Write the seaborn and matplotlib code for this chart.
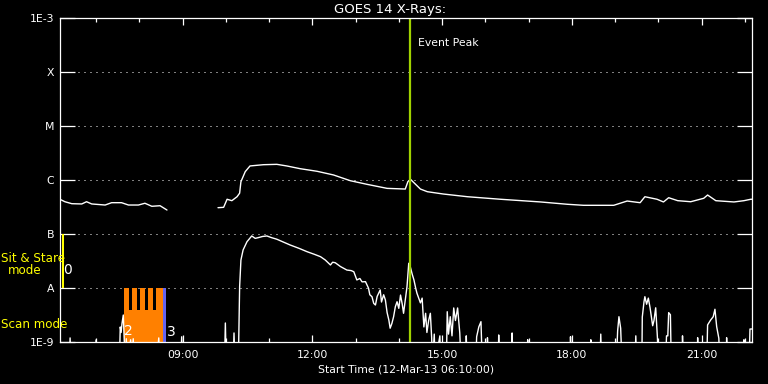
import numpy as np
import pandas as pd
import matplotlib
matplotlib.use("Agg")
import matplotlib.pyplot as plt
import seaborn as sns

# ---------------- data ----------------
LOW = 4e-10  # below plotted range (clipped at 1E-9)

# long channel (1-8 A), two segments (data gap between)
long_t1 = [6.17, 6.19, 6.28, 6.44, 6.67, 6.78, 6.90, 7.21, 7.36, 7.59, 7.75, 7.98, 8.13, 8.29, 8.48, 8.64]
long_f1 = [4.3e-7, 4.3e-7, 3.96e-7, 3.64e-7, 3.6e-7, 3.96e-7, 3.6e-7, 3.44e-7, 3.8e-7, 3.8e-7, 3.44e-7,
           3.44e-7, 3.71e-7, 3.26e-7, 3.34e-7, 2.78e-7]
long_t2 = [9.82, 9.95, 10.03, 10.14, 10.26, 10.32, 10.35, 10.45, 10.56, 10.87, 11.18, 11.41, 11.72, 12.11,
           12.49, 12.88, 13.27, 13.73, 14.15, 14.21, 14.27, 14.50, 14.66, 15.03, 15.59, 16.35, 17.28, 17.90,
           18.27, 18.97, 19.28, 19.58, 19.69, 19.97, 20.12, 20.24, 20.45, 20.75, 21.05, 21.14, 21.33, 21.75,
           21.98, 22.14, 22.17]
long_f2 = [3.07e-7, 3.12e-7, 4.4e-7, 4.14e-7, 4.9e-7, 5.7e-7, 9.3e-7, 1.43e-6, 1.82e-6, 1.92e-6, 1.95e-6,
           1.82e-6, 1.62e-6, 1.45e-6, 1.24e-6, 9.7e-7, 8.3e-7, 7.0e-7, 6.8e-7, 9.3e-7, 1.03e-6, 6.8e-7,
           6.07e-7, 5.5e-7, 4.9e-7, 4.4e-7, 3.92e-7, 3.55e-7, 3.4e-7, 3.4e-7, 4.08e-7, 3.8e-7, 4.9e-7,
           4.4e-7, 3.92e-7, 4.7e-7, 4.14e-7, 3.96e-7, 4.58e-7, 5.27e-7, 4.14e-7, 3.92e-7, 4.14e-7, 4.4e-7,
           4.4e-7]

# short channel (0.5-4 A)
short_t = [6.17, 6.38, 6.40, 6.42, 6.98, 7.00, 7.02, 7.54, 7.56, 7.58, 7.60, 7.63, 7.65, 7.67,
           7.70, 7.72, 7.80, 7.82, 7.86, 7.88, 8.40, 8.45, 8.47, 8.96, 8.98, 9.00, 9.97, 9.99, 10.01,
           10.17, 10.19, 10.21,
           10.29, 10.32, 10.35, 10.40, 10.49, 10.60, 10.68, 10.76, 10.85, 10.95, 11.05, 11.18, 11.35,
           11.49, 11.70, 11.88, 12.05, 12.19, 12.30, 12.42, 12.47, 12.53, 12.65, 12.80, 12.90, 12.96,
           13.03, 13.10, 13.15, 13.23, 13.30, 13.33, 13.38, 13.42, 13.46, 13.50, 13.57, 13.60, 13.65,
           13.69, 13.73, 13.77, 13.80, 13.84, 13.88, 13.92, 13.96, 14.00, 14.04, 14.08, 14.11, 14.15,
           14.19, 14.23, 14.27, 14.31, 14.35, 14.39, 14.42, 14.46, 14.50, 14.54, 14.58, 14.62, 14.65,
           14.69, 14.73, 14.76, 14.78,
           14.82, 14.84, 14.95, 14.97,
           15.10, 15.12, 15.15, 15.19, 15.23, 15.27, 15.31, 15.36, 15.41, 15.44,
           15.55, 15.56, 15.58, 15.78, 15.80, 15.85, 15.90, 15.93,
           16.04, 16.05, 16.07, 16.30, 16.31, 16.33, 16.61, 16.62, 16.64, 16.97, 16.98, 17.00,
           17.96, 17.97, 17.99, 18.43, 18.44, 18.46, 18.65, 18.67, 18.69,
           19.03, 19.06, 19.09, 19.13, 19.16, 19.46, 19.48, 19.50,
           19.62, 19.63, 19.67, 19.69, 19.73, 19.77, 19.81, 19.87, 19.90, 19.94, 19.98, 20.00,
           20.17, 20.19, 20.22, 20.24, 20.28, 20.30,
           20.55, 20.56, 20.58, 20.90, 20.91, 20.93,
           21.12, 21.14, 21.21, 21.27, 21.31, 21.35, 21.40, 21.42,
           21.57, 21.58, 21.60, 21.97, 21.98, 22.00, 22.10, 22.12, 22.17]
short_f = [LOW, LOW, 1.19e-9, LOW, LOW, 1.09e-9, LOW, LOW, 1.9e-9, 1.5e-9, 2.2e-9, 3.16e-9, 1.2e-9, LOW,
           1.15e-9, LOW, 1.1e-9, LOW, 1.15e-9, LOW, LOW, 1.19e-9, LOW, LOW, 1.25e-9, LOW, LOW, 2.25e-9, LOW,
           LOW, 1.47e-9, LOW,
           LOW, 1.06e-8, 3.3e-8, 5.06e-8, 7.2e-8, 9.2e-8, 8.3e-8, 8.6e-8, 9.0e-8, 9.2e-8, 8.6e-8, 8.0e-8,
           7.0e-8, 6.25e-8, 5.4e-8, 4.7e-8, 4.2e-8, 3.8e-8, 3.3e-8, 2.67e-8, 3.0e-8, 2.94e-8, 2.5e-8,
           2.15e-8, 2.1e-8, 2.0e-8, 1.41e-8, 1.5e-8, 1.3e-8, 1.31e-8, 9.9e-9, 7.5e-9, 6.9e-9, 5.2e-9,
           4.84e-9, 7.0e-9, 9.2e-9, 5.5e-9, 7.5e-9, 6.0e-9, 3.5e-9, 2.55e-9, 1.8e-9, 2.2e-9, 2.94e-9,
           4.5e-9, 5.57e-9, 4.2e-9, 7.4e-9, 5.0e-9, 3.4e-9, 6.0e-9, 1.06e-8, 2.87e-8, 2.4e-8, 1.8e-8,
           1.41e-8, 1.0e-8, 8.0e-9, 6.5e-9, 5.3e-9, 6.5e-9, 1.9e-9, 3.4e-9, 1.5e-9, 2.5e-9, 3.4e-9,
           1.2e-9, LOW,
           1.4e-9, LOW, 1.3e-9, LOW,
           LOW, 3.64e-9, 1.4e-9, 2.94e-9, 1.3e-9, 4.27e-9, 2.5e-9, 4.27e-9, 1.47e-9, LOW,
           LOW, 1.3e-9, LOW, LOW, 1.25e-9, 1.9e-9, 2.38e-9, LOW,
           LOW, 1.2e-9, LOW, LOW, 1.35e-9, LOW, LOW, 1.47e-9, LOW, LOW, 1.1e-9, LOW,
           LOW, 1.25e-9, LOW, LOW, 1.1e-9, LOW, LOW, 1.4e-9, LOW,
           LOW, 1.6e-9, 2.94e-9, 1.8e-9, LOW, LOW, 1.3e-9, LOW,
           LOW, 2.9e-9, 5.6e-9, 6.9e-9, 5.0e-9, 6.5e-9, 4.3e-9, 2.0e-9, 2.5e-9, 4.3e-9, 1.2e-9, LOW,
           LOW, 1.3e-9, 1.3e-9, 3.5e-9, 3.2e-9, LOW,
           LOW, 1.3e-9, LOW, LOW, 1.2e-9, LOW,
           LOW, 2.07e-9, 2.55e-9, 2.94e-9, 4.04e-9, 1.92e-9, 1.17e-9, LOW,
           LOW, 1.2e-9, LOW, LOW, 1.1e-9, LOW, LOW, 1.74e-9, 1.74e-9]

# instrument mode bars: (start hour, end hour, bottom, top)
scan_base = [(7.648, 8.551, 1e-9, 3.9e-9)]
scan_teeth = [(7.648, 7.764), (7.833, 7.949), (8.019, 8.134), (8.204, 8.319), (8.389, 8.551)]
mode3_bar = [(8.551, 8.620, 1e-9, 1e-8)]
sitstare_bar = [(6.213, 6.259, 1e-8, 1e-7)]

peak_time = 14.268
x_start, x_end = 6 + 10 / 60, 22 + 10 / 60
y_ticks = [1e-9, 1e-8, 1e-7, 1e-6, 1e-5, 1e-4, 1e-3]
y_labels = ["1E-9", "A", "B", "C", "M", "X", "1E-3"]
x_major = [9, 12, 15, 18, 21]
x_labels = ["09:00", "12:00", "15:00", "18:00", "21:00"]
x_minor = list(range(7, 23))

# ---------------- figure ----------------
sns.set_theme(style="dark")
plt.rcParams.update({
    "font.family": ["DejaVu Sans"],
    "figure.facecolor": "black",
    "axes.facecolor": "black",
    "savefig.facecolor": "black",
})

fig = plt.figure(figsize=(7.68, 3.84), dpi=100)
ax = fig.add_axes([60 / 768, 42 / 384, 692 / 768, 324 / 384])
ax.set_facecolor("black")

ax.set_yscale("log")
ax.set_xlim(x_start, x_end)
ax.set_ylim(1e-9, 1e-3)

# dotted grid at each decade
for yv in y_ticks[1:-1]:
    ax.axhline(yv, color="white", lw=0.72, ls=(0, (1, 5)), zorder=1)

# mode bars
for (a, b, lo, hi) in scan_base:
    ax.bar(a, hi - lo, width=b - a, bottom=lo, align="edge", color="#ff8000", lw=0, zorder=2)
for (a, b) in scan_teeth:
    ax.bar(a, 1e-8 - 1e-9, width=b - a, bottom=1e-9, align="edge", color="#ff8000", lw=0, zorder=2)
for (a, b, lo, hi) in mode3_bar:
    ax.bar(a, hi - lo, width=b - a, bottom=lo, align="edge", color="#6464f0", lw=0, zorder=2)
for (a, b, lo, hi) in sitstare_bar:
    ax.bar(a, hi - lo, width=b - a, bottom=lo, align="edge", color="#ffff00", lw=0, zorder=2)

# curves
df_l1 = pd.DataFrame({"t": long_t1, "f": long_f1})
df_l2 = pd.DataFrame({"t": long_t2, "f": long_f2})
df_s = pd.DataFrame({"t": short_t, "f": short_f})
for d in (df_l1, df_l2, df_s):
    sns.lineplot(data=d, x="t", y="f", ax=ax, color="white", lw=1.0, estimator=None,
                 sort=False, zorder=4)

# event peak
ax.axvline(peak_time, color="#a0d200", lw=1.6, zorder=5)
ax.text(14.45, 3.44e-4, "Event Peak", color="white", fontsize=7.8, ha="left", va="center")

# mode numbers
ax.text(6.33, 2.15e-8, "0", color="white", fontsize=10, ha="center", va="center", zorder=6)
ax.text(7.74, 1.6e-9, "2", color="white", fontsize=10, ha="center", va="center", zorder=6)
ax.text(8.73, 1.55e-9, "3", color="white", fontsize=10, ha="center", va="center", zorder=6)

# axes styling
for s in ax.spines.values():
    s.set_color("white")
    s.set_linewidth(0.9)
    s.set_zorder(7)

ax.set_yticks(y_ticks)
ax.set_yticklabels(y_labels)
ax.yaxis.set_minor_locator(matplotlib.ticker.NullLocator())
ax.tick_params(axis="y", which="major", direction="in", length=10.5, width=0.9, color="white",
               left=True, right=True, labelcolor="white", labelsize=7.8, pad=4)

ax.set_xticks(x_major)
ax.set_xticklabels(x_labels)
ax.set_xticks(x_minor, minor=True)
ax.tick_params(axis="x", which="major", direction="in", length=5, width=0.9, color="white",
               top=True, bottom=True, labelcolor="white", labelsize=7.8, pad=6)
ax.tick_params(axis="x", which="minor", direction="in", length=3, width=0.9, color="white",
               top=True, bottom=True)

ax.set_xlabel("Start Time (12-Mar-13 06:10:00)", color="white", fontsize=7.8, labelpad=3)
ax.set_ylabel("")
ax.grid(False)

# title and mode labels
fig.text(390 / 768, 1 - 9 / 384, "GOES 14 X-Rays:", color="white", fontsize=9.5, ha="center", va="center")
fig.text(1 / 768, 1 - 258 / 384, "Sit & Stare", color="#ffff00", fontsize=8.6, ha="left", va="center")
fig.text(25 / 768, 1 - 271 / 384, "mode", color="#ffff00", fontsize=8.6, ha="center", va="center")
fig.text(1 / 768, 1 - 324 / 384, "Scan mode", color="#ffff00", fontsize=8.6, ha="left", va="center")

fig.savefig("out.png", dpi=100, facecolor="black")
